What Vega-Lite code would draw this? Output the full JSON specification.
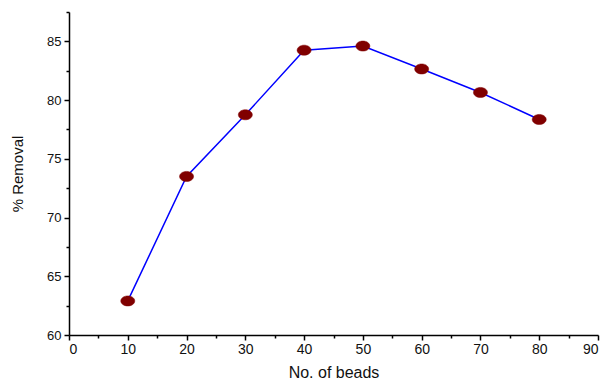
{
  "$schema": "https://vega.github.io/schema/vega-lite/v6.json",
  "autosize": "none",
  "width": 529,
  "height": 323,
  "padding": {"left": 69, "top": 12, "right": 8, "bottom": 46},
  "background": "white",
  "config": {
    "view": {"stroke": null},
    "axis": {
      "labelFont": "Liberation Sans",
      "titleFont": "Liberation Sans",
      "labelFontSize": 13,
      "titleFontSize": 14,
      "titleFontWeight": "normal",
      "labelColor": "#111",
      "titleColor": "#111",
      "domainColor": "#000",
      "tickColor": "#000",
      "domainWidth": 1.5,
      "tickWidth": 1.5,
      "grid": false
    }
  },
  "data": {
    "values": [
      {"beads": 10, "removal": 62.9},
      {"beads": 20, "removal": 73.5},
      {"beads": 30, "removal": 78.75},
      {"beads": 40, "removal": 84.25},
      {"beads": 50, "removal": 84.6},
      {"beads": 60, "removal": 82.65},
      {"beads": 70, "removal": 80.65},
      {"beads": 80, "removal": 78.35}
    ]
  },
  "encoding": {
    "x": {
      "field": "beads",
      "type": "quantitative",
      "scale": {"domain": [0, 90], "nice": false, "zero": false},
      "axis": {
        "title": "No. of beads",
        "titleFontSize": 16,
        "labelFontSize": 14,
        "values": [0, 5, 10, 15, 20, 25, 30, 35, 40, 45, 50, 55, 60, 65, 70, 75, 80, 85, 90],
        "labelExpr": "datum.value % 10 === 0 ? datum.label : ''",
        "tickSize": {"condition": {"test": "datum.value % 10 === 0", "value": 5}, "value": 3},
        "labelPadding": 2,
        "titlePadding": 8
      }
    },
    "y": {
      "field": "removal",
      "type": "quantitative",
      "scale": {"domain": [60, 87.5], "nice": false, "zero": false},
      "axis": {
        "title": "% Removal",
        "titleFontSize": 15,
        "values": [60, 62.5, 65, 67.5, 70, 72.5, 75, 77.5, 80, 82.5, 85, 87.5],
        "labelExpr": "datum.value % 5 === 0 ? datum.label : ''",
        "tickSize": {"condition": {"test": "datum.value % 5 === 0", "value": 5}, "value": 3},
        "labelPadding": 3,
        "titlePadding": 21
      }
    }
  },
  "layer": [
    {"mark": {"type": "line", "color": "#0000ff", "strokeWidth": 1.5}},
    {
      "mark": {
        "type": "point",
        "shape": "M -1 0 A 1 0.72 0 1 0 1 0 A 1 0.72 0 1 0 -1 0 Z",
        "size": 196,
        "filled": true,
        "fill": "#800000",
        "stroke": "#800000",
        "strokeWidth": 0.5,
        "opacity": 1
      }
    }
  ]
}
